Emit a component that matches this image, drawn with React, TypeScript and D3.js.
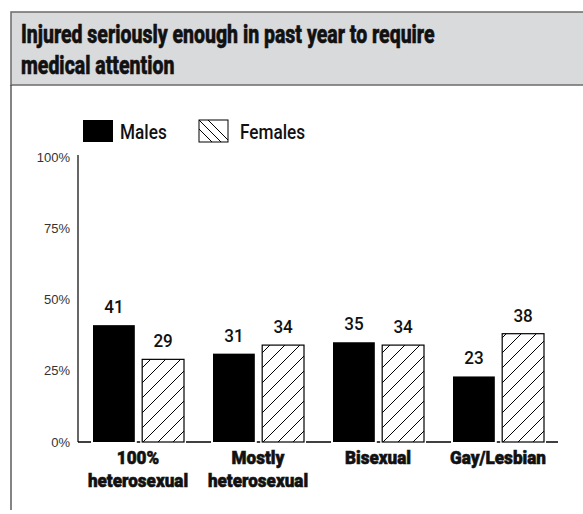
import React from "react";
import * as d3 from "d3";

const categories = ["100%|heterosexual", "Mostly|heterosexual", "Bisexual", "Gay/Lesbian"];
const males = [41, 31, 35, 23];
const females = [29, 34, 34, 38];
const yTicks = [0, 25, 50, 75, 100];
const seriesNames = ["Males", "Females"];
const titleLines = ["Injured seriously enough in past year to require", "medical attention"];

const W = 583;
const H = 514;
const FONT = "Roboto, 'Liberation Sans', sans-serif";

// condensed text helper: horizontal squeeze around the anchor point
function CText({ x, y, s, anchor = "start", size, weight = 400, bold = 0, children }: any) {
  return (
    <text
      transform={`translate(${x},${y}) scale(${s},1)`}
      textAnchor={anchor}
      fontFamily={FONT}
      fontWeight={weight}
      fontSize={size}
      fill="#111"
      stroke={bold ? "#111" : "none"}
      strokeWidth={bold}
    >
      {children}
    </text>
  );
}

export default function App() {
  const x = d3.scaleBand<string>().domain(categories).range([78, 558]).paddingInner(0).paddingOuter(0);
  const y = d3.scaleLinear().domain([0, 100]).range([442, 157]);
  const inner = d3.scaleBand<string>().domain(["m", "f"]).range([15, 106]).paddingInner(0.15);
  const bw = inner.bandwidth();

  return (
    <svg width={W} height={H} style={{ position: "absolute", left: 0, top: 0, background: "#fff" }}>
      <defs>
        <pattern id="hatch" patternUnits="userSpaceOnUse" width={15} height={15}>
          <path d="M0,15 L15,0 M-3,3 L3,-3 M12,18 L18,12" stroke="#000" strokeWidth={1} />
        </pattern>
        <clipPath id="legclip">
          <rect x={199} y={120} width={29} height={22} />
        </clipPath>
      </defs>
      {/* header */}
      <rect x={11} y={12} width={W} height={73} fill="#d9dadc" stroke="#6b6b6b" strokeWidth={1.5} />
      <line x1={11} y1={85} x2={11} y2={510} stroke="#333" strokeWidth={1.2} />
      {titleLines.map((t, i) => (
        <CText key={i} x={21} y={43 + i * 31} s={0.78} size={25} weight={800} bold={0.6}>
          {t}
        </CText>
      ))}
      {/* legend */}
      <rect x={83} y={120} width={30} height={22} fill="#000" />
      <CText x={120} y={139} s={0.86} size={20} weight={500}>{seriesNames[0]}</CText>
      <rect x={199} y={120} width={29} height={22} fill="#fff" stroke="#000" strokeWidth={1} />
      <g clipPath="url(#legclip)" stroke="#000" strokeWidth={1}>
        <line x1={199} y1={120} x2={221} y2={142} />
        <line x1={190} y1={120} x2={212} y2={142} />
        <line x1={208} y1={120} x2={230} y2={142} />
      </g>
      <CText x={240} y={139} s={0.86} size={20} weight={500}>{seriesNames[1]}</CText>
      {/* y axis */}
      <line x1={78} y1={155} x2={78} y2={442} stroke="#000" strokeWidth={1.2} />
      {yTicks.map((t) => (
        <text key={t} x={70} y={y(t)} dy="0.35em" textAnchor="end" fontFamily="'Liberation Sans', Arial, sans-serif" fontSize={13} fill="#333">
          {t}%
        </text>
      ))}
      {/* baseline */}
      <line x1={78} y1={442} x2={558} y2={442} stroke="#000" strokeWidth={1.5} />
      {/* bars */}
      {categories.map((c, i) => {
        const gx = x(c)!;
        const mx = gx + inner("m")!;
        const fx = gx + inner("f")!;
        const lines = c.split("|");
        return (
          <g key={c}>
            <rect x={mx - 2} y={y(males[i]) - 2} width={bw + 4} height={442 - y(males[i]) + 4} fill="#fff" />
            <rect x={fx - 2} y={y(females[i]) - 2} width={bw + 4} height={442 - y(females[i]) + 4} fill="#fff" />
            <rect x={mx} y={y(males[i])} width={bw} height={442 - y(males[i])} fill="#000" />
            <rect x={fx} y={y(females[i])} width={bw} height={442 - y(females[i])} fill="url(#hatch)" stroke="#000" strokeWidth={1.2} />
            <CText x={mx + bw / 2} y={y(males[i]) - 12} s={0.95} anchor="middle" size={18} weight={500}>{males[i]}</CText>
            <CText x={fx + bw / 2} y={y(females[i]) - 12} s={0.95} anchor="middle" size={18} weight={500}>{females[i]}</CText>
            {lines.map((l, j) => (
              <CText key={j} x={gx + x.bandwidth() / 2} y={464 + j * 23} s={0.9} anchor="middle" size={19} weight={900} bold={0.6}>
                {l}
              </CText>
            ))}
          </g>
        );
      })}
    </svg>
  );
}
